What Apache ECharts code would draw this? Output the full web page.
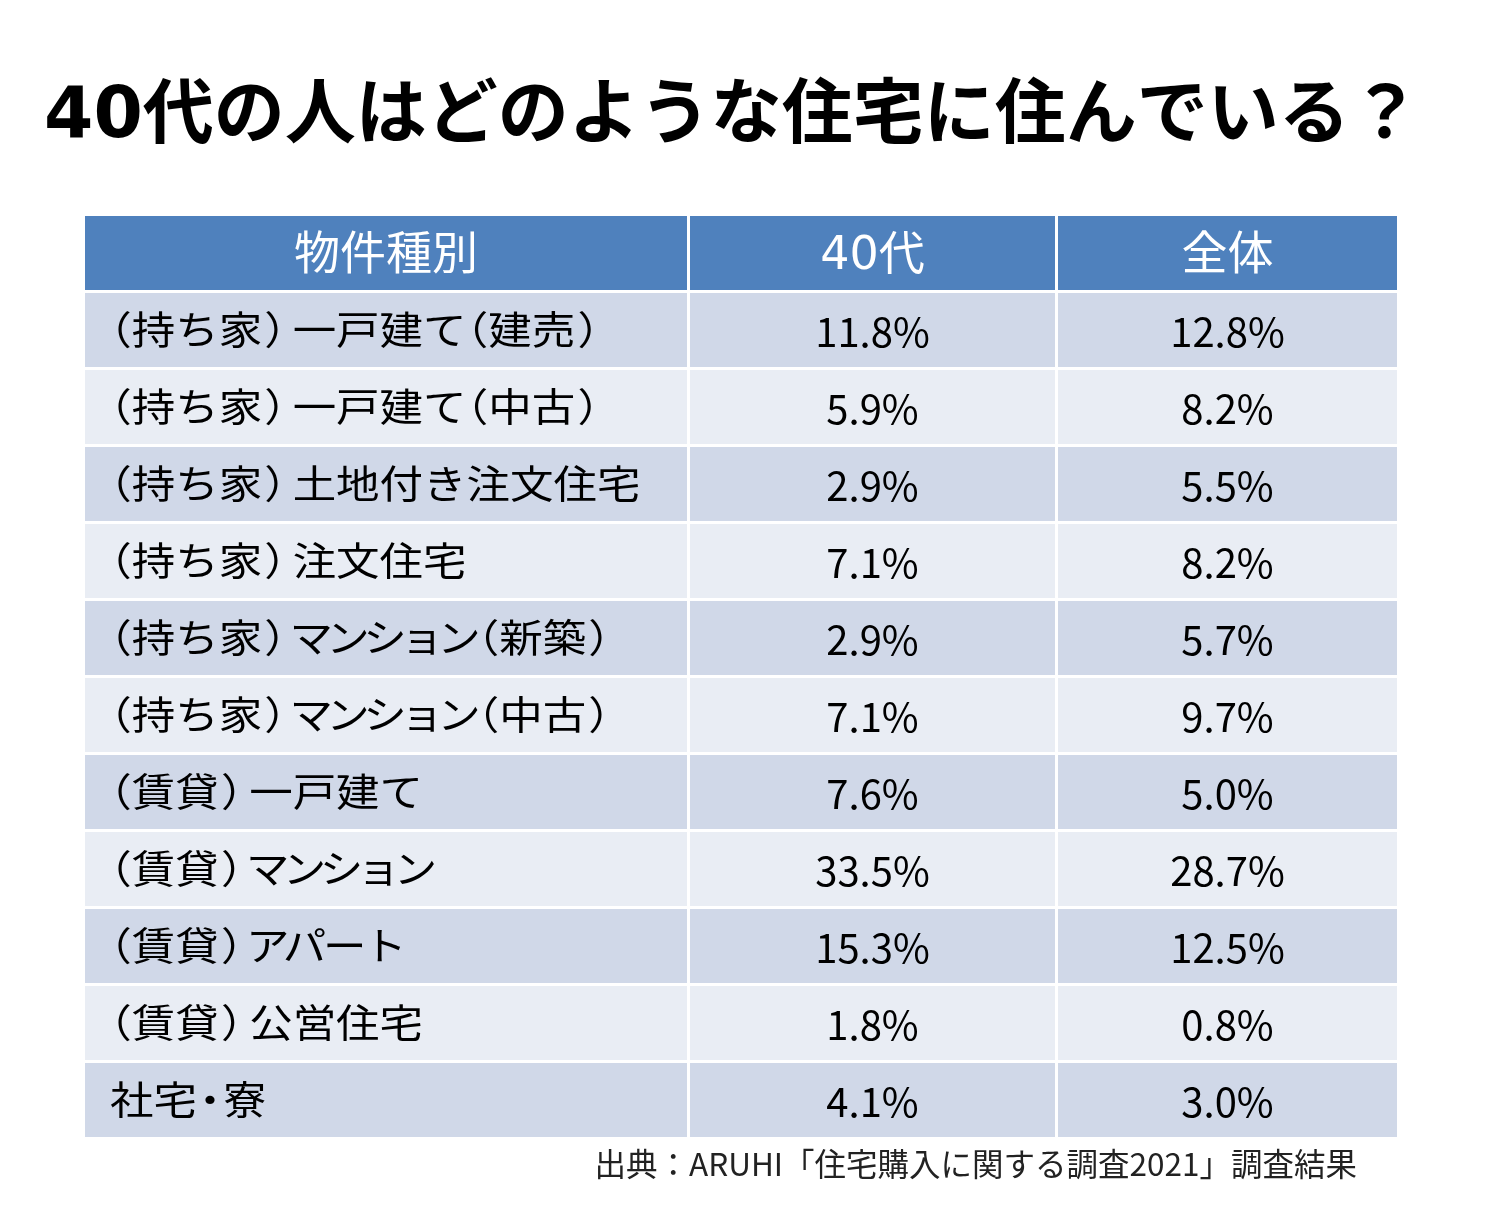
<!DOCTYPE html>
<html>
<head>
<meta charset="utf-8">
<script src="https://cdn.jsdelivr.net/npm/echarts@6/dist/echarts.min.js"></script>
<style>
  html, body { margin: 0; padding: 0; background: #ffffff; }
  #chart { width: 1500px; height: 1222px; }
</style>
</head>
<body>
<div id="chart"></div>
<script>
// ---- data ----
const titleText = '40代の人はどのような住宅に住んでいる？';
const sourceText = '出典：ARUHI「住宅購入に関する調査2021」調査結果';
const columns = ['物件種別', '40代', '全体'];
const categories = [
  '（持ち家）一戸建て（建売）',
  '（持ち家）一戸建て（中古）',
  '（持ち家）土地付き注文住宅',
  '（持ち家）注文住宅',
  '（持ち家）マンション（新築）',
  '（持ち家）マンション（中古）',
  '（賃貸）一戸建て',
  '（賃貸）マンション',
  '（賃貸）アパート',
  '（賃貸）公営住宅',
  '社宅・寮'
];
const age40 = [11.8, 5.9, 2.9, 7.1, 2.9, 7.1, 7.6, 33.5, 15.3, 1.8, 4.1];
const overall = [12.8, 8.2, 5.5, 8.2, 5.7, 9.7, 5.0, 28.7, 12.5, 0.8, 3.0];

// ---- layout / style ----
const colEdges = [0, 605, 973, 1312];   // x-axis units (column boundaries)
const GAP = 3;
const HEADER_BG = '#4F81BD';
const ROW_DARK = '#D0D8E8';
const ROW_LIGHT = '#E9EDF4';
const LABEL_FS = 39;
const LABEL_SX = 1.115;
const LABEL_PAD = 25;
const VALUE_FS = 40;
const HEADER_FS = 46;
const LABEL_FONT = "'Noto Sans CJK JP', sans-serif";

const rowNames = [columns[0]].concat(categories);
const cells = [];
for (let r = 0; r < rowNames.length; r++) {
  for (let c = 0; c < columns.length; c++) cells.push([c, r]);
}

function fmt(v) { return v.toFixed(1) + '%'; }

function cellText(r, c) {
  if (r === 0) return columns[c];
  const i = r - 1;
  if (c === 0) return categories[i];
  if (c === 1) return fmt(age40[i]);
  return fmt(overall[i]);
}

// proportional-style spacing: [draw offset, advance] in units of the full-width advance
const PROP = { '（': [-0.5, 0.5], '）': [0.05, 0.7], '・': [-0.2, 0.6] };
const KANA_ADV = 0.85;
function isKatakana(ch) {
  const code = ch.charCodeAt(0);
  return code >= 0x30A1 && code <= 0x30FA;
}
function labelElements(txt, startX, cy) {
  const a = LABEL_FS * LABEL_SX;
  const els = [];
  let cursor = startX;
  let run = '';
  let runX = cursor;
  function glyph(t, x) {
    els.push({
      type: 'text', x: x, y: cy, scaleX: LABEL_SX,
      style: { text: t, x: 0, y: 0, fill: '#000000', fontSize: LABEL_FS,
               fontFamily: LABEL_FONT, align: 'left', verticalAlign: 'middle' }
    });
  }
  function flush() { if (run) { glyph(run, runX); run = ''; } }
  for (const ch of txt) {
    if (Object.prototype.hasOwnProperty.call(PROP, ch)) {
      flush();
      glyph(ch, cursor + PROP[ch][0] * a);
      cursor += PROP[ch][1] * a;
    } else if (isKatakana(ch)) {
      flush();
      glyph(ch, cursor - (1 - KANA_ADV) * a / 2);
      cursor += KANA_ADV * a;
    } else {
      if (!run) runX = cursor;
      run += ch;
      cursor += a;
    }
  }
  flush();
  return els;
}

function renderItem(params, api) {
  const c = api.value(0);
  const r = api.value(1);
  const center = api.coord([0, r]);
  const bandH = api.size([0, 1])[1];
  const x0 = api.coord([colEdges[c], r])[0];
  const x1 = api.coord([colEdges[c + 1], r])[0] - (c < columns.length - 1 ? GAP : 0);
  const top = center[1] - bandH / 2;
  const h = bandH - GAP;
  const fill = r === 0 ? HEADER_BG : (r % 2 === 1 ? ROW_DARK : ROW_LIGHT);
  const txt = cellText(r, c);
  const children = [
    { type: 'rect', shape: { x: x0, y: top, width: x1 - x0, height: h }, style: { fill: fill } }
  ];
  if (r === 0) {
    children.push({
      type: 'text',
      style: {
        text: txt, x: (x0 + x1) / 2, y: top + h / 2 + 4,
        fill: '#ffffff', fontSize: HEADER_FS,
        fontFamily: "'DejaVu Sans', 'Noto Sans CJK JP', sans-serif",
        align: 'center', verticalAlign: 'middle'
      }
    });
  } else if (c === 0) {
    labelElements(txt, x0 + LABEL_PAD, top + h / 2 - 1).forEach(function (e) { children.push(e); });
  } else {
    children.push({
      type: 'text',
      style: {
        text: txt, x: (x0 + x1) / 2, y: top + h / 2 + 2,
        fill: '#000000', fontSize: VALUE_FS,
        fontFamily: "'Noto Sans CJK JP', sans-serif",
        align: 'center', verticalAlign: 'middle'
      }
    });
  }
  return { type: 'group', children: children };
}

const chart = echarts.init(document.getElementById('chart'), null, { renderer: 'canvas' });
chart.setOption({
  animation: false,
  backgroundColor: '#ffffff',
  title: [
    {
      text: titleText, left: 44, top: 83, padding: 0,
      textStyle: {
        fontSize: 71, fontWeight: 'bold', color: '#000000', lineHeight: 72,
        fontFamily: "'DejaVu Sans', 'Noto Sans CJK JP', sans-serif"
      }
    },
    {
      text: sourceText, right: 143, top: 1148, padding: 0,
      textStyle: {
        fontSize: 31.5, fontWeight: 'normal', color: '#222222', lineHeight: 32,
        fontFamily: "'Noto Sans CJK JP', sans-serif"
      }
    }
  ],
  grid: { left: 85, right: 103, top: 216, height: 924 },
  xAxis: { type: 'value', min: 0, max: colEdges[colEdges.length - 1], show: false },
  yAxis: { type: 'category', data: rowNames, inverse: true, show: false },
  series: [{
    type: 'custom',
    renderItem: renderItem,
    encode: { x: 0, y: 1 },
    data: cells,
    silent: true
  }]
});
</script>
</body>
</html>
